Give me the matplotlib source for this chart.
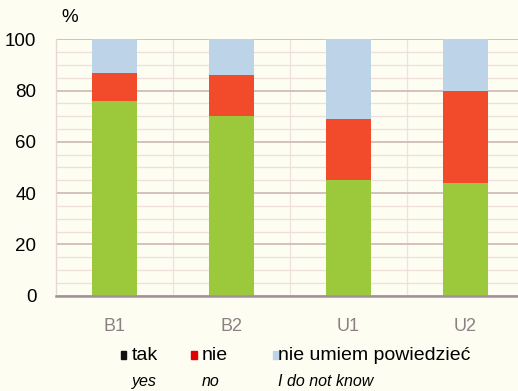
import numpy as np
import matplotlib.pyplot as plt
from matplotlib.patches import Rectangle
from matplotlib.ticker import MultipleLocator

plt.rcParams['font.family'] = ['Liberation Sans', 'DejaVu Sans']

# odpowiedzi w procentach dla każdej grupy
grupy = ['B1', 'B2', 'U1', 'U2']
tak = [76, 70, 45, 44]
nie = [11, 16, 24, 36]
nie_wiem = [13, 14, 31, 20]

etykiety_pl = ['tak', 'nie', 'nie umiem powiedzieć']
etykiety_en = ['yes', 'no', 'I do not know']

c_tak = '#9cc83b'
c_nie = '#f24b2c'
c_wiem = '#bdd3e7'
tlo = '#fdfdf2'

fig = plt.figure(figsize=(5.18, 3.91), dpi=100, facecolor=tlo)
ax = fig.add_axes([0.108, 0.2437, 0.892, 0.656])
ax.set_facecolor(tlo)

x = np.arange(len(grupy))
w = 0.39
b1 = np.array(tak)
b2 = b1 + np.array(nie)
ax.bar(x, tak, w, color=c_tak, zorder=3)
ax.bar(x, nie, w, bottom=b1, color=c_nie, zorder=3)
ax.bar(x, nie_wiem, w, bottom=b2, color=c_wiem, zorder=3)

ax.set_xlim(-0.5, 3.45)
ax.set_ylim(0, 100)
ax.yaxis.set_major_locator(MultipleLocator(20))
ax.yaxis.set_minor_locator(MultipleLocator(5))
ax.grid(axis='y', which='major', color='#d0bcbc', lw=1.3, zorder=1)
ax.grid(axis='y', which='minor', color='#eedfda', lw=0.9, zorder=1)
for xv in [0.5, 1.5, 2.5]:
    ax.axvline(xv, color='#efe3df', lw=0.9, zorder=1)

for s in ['top', 'right']:
    ax.spines[s].set_visible(False)
ax.spines['left'].set_color('#e8d6d6')
ax.spines['left'].set_linewidth(1.0)
ax.spines['bottom'].set_color('#a09298')
ax.spines['bottom'].set_linewidth(1.8)
ax.spines['bottom'].set_zorder(4)

ax.set_xticks(x)
ax.set_xticklabels(grupy, color='#8c8084', fontsize=13)
ax.tick_params(axis='x', length=0, pad=16)
ax.tick_params(axis='y', which='both', length=0, pad=14, labelsize=13.5)

fig.text(0.135, 0.955, '%', fontsize=13.5, ha='center', va='center')

# legenda pod wykresem
kol = ['#111111', '#e00000', c_wiem]
xs_kw = [0.233, 0.369, 0.527]
xs_txt = [0.255, 0.389, 0.537]
for xk, xt, k, pl, en in zip(xs_kw, xs_txt, kol, etykiety_pl, etykiety_en):
    fig.patches.append(Rectangle((xk, 0.083), 0.011, 0.02, color=k,
                                 transform=fig.transFigure, figure=fig))
    fig.text(xt, 0.091, pl, fontsize=14, ha='left', va='center')
    fig.text(xt, 0.025, en, fontsize=11.5, style='italic', ha='left', va='center')

fig.savefig('out.png', dpi=100, facecolor=tlo)
